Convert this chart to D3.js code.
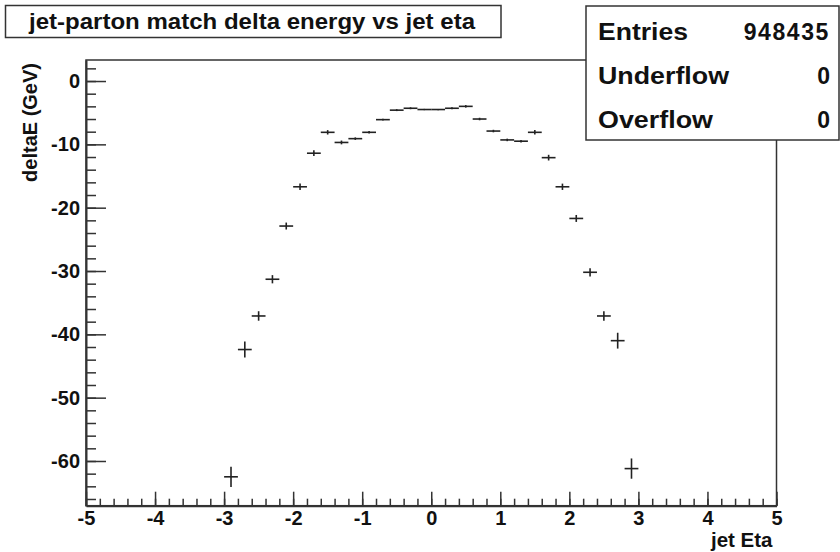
<!DOCTYPE html>
<html>
<head>
<meta charset="utf-8">
<script src="https://cdn.jsdelivr.net/npm/d3@7"></script>
<style>
  body { margin: 0; background: #fff; }
  text { font-family: "Liberation Sans", Arial, Helvetica, sans-serif; font-weight: bold; fill: #111; }
</style>
</head>
<body>
<div id="chart"></div>
<script>

// bin centres (jet eta), bin width 0.2
var etaCenters = [-2.9, -2.7, -2.5, -2.3, -2.1, -1.9, -1.7, -1.5, -1.3, -1.1,
                  -0.9, -0.7, -0.5, -0.3, -0.1, 0.1, 0.3, 0.5, 0.7, 0.9,
                  1.1, 1.3, 1.5, 1.7, 1.9, 2.1, 2.3, 2.5, 2.7, 2.9]
var binWidth = 0.2

// profile mean of deltaE (GeV) in each bin
var deltaE = [-62.5, -42.4, -37.1, -31.3, -22.9, -16.7, -11.4, -8.1, -9.7, -9.1,
              -8.1, -6.1, -4.6, -4.3, -4.5, -4.5, -4.3, -4.0, -6.0, -7.9,
              -9.3, -9.5, -8.1, -12.1, -16.7, -21.7, -30.2, -37.1, -41.0, -61.2]

// error on the mean
var deltaErr = [1.6, 1.25, 0.75, 0.65, 0.55, 0.5, 0.45, 0.35, 0.3, 0.2,
                0.2, 0.15, 0.15, 0.15, 0.1, 0.1, 0.15, 0.2, 0.2, 0.2,
                0.2, 0.2, 0.35, 0.45, 0.5, 0.55, 0.65, 0.75, 1.25, 1.6]

var xTicks = [-5, -4, -3, -2, -1, 0, 1, 2, 3, 4, 5]
var yTicks = [-60, -50, -40, -30, -20, -10, 0]

var titleText = "jet-parton match delta energy vs jet eta"
var statNames = ["Entries", "Underflow", "Overflow"]
var statValues = ["948435", "0", "0"]

var width = 840, height = 552
var frame = { left: 86, right: 776.5, top: 60, bottom: 505.7 }
var ink = "#222"

var svg = d3.select("#chart").append("svg")
	.attr("width", width)
	.attr("height", height)

var x = d3.scaleLinear().domain([-5, 5]).range([frame.left, frame.right])
var y = d3.scaleLinear().domain([-67.06, 3.32]).range([frame.bottom, frame.top])

// plot frame
svg.append("rect")
	.attr("x", frame.left).attr("y", frame.top)
	.attr("width", frame.right - frame.left)
	.attr("height", frame.bottom - frame.top)
	.style("fill", "none").style("stroke", "#333").style("stroke-width", 1.5)

// minor ticks first, majors with labels on top
var xMinor = d3.range(-5, 5.0001, 0.2).map(function(d) { return Math.round(d * 10) / 10 })
var yMinor = d3.range(-66, 3, 2)

svg.append("g")
	.attr("transform", "translate(0," + frame.bottom + ")")
	.call(d3.axisBottom(x).tickValues(xMinor).tickSizeInner(-7).tickSizeOuter(0).tickFormat(""))
	.call(function(g) { g.select(".domain").remove() })

svg.append("g")
	.attr("transform", "translate(" + frame.left + ",0)")
	.call(d3.axisLeft(y).tickValues(yMinor).tickSizeInner(-10).tickSizeOuter(0).tickFormat(""))
	.call(function(g) { g.select(".domain").remove() })

var xAxis = svg.append("g")
	.attr("transform", "translate(0," + frame.bottom + ")")
	.call(d3.axisBottom(x).tickValues(xTicks).tickSizeInner(-14).tickSizeOuter(0).tickPadding(5)
		.tickFormat(function(d) { return String(d) }))

var yAxis = svg.append("g")
	.attr("transform", "translate(" + frame.left + ",0)")
	.call(d3.axisLeft(y).tickValues(yTicks).tickSizeInner(-20).tickSizeOuter(0).tickPadding(6)
		.tickFormat(function(d) { return String(d) }))

svg.selectAll(".tick line").style("stroke", "#333").style("stroke-width", 1.5)
svg.selectAll(".domain").style("stroke", "#333").style("stroke-width", 2)
svg.selectAll(".tick text")
	.style("font-family", "'Liberation Sans', Arial, sans-serif")
	.style("font-weight", "bold")
	.style("font-size", "20px")
	.style("fill", "#111")

// axis titles
svg.append("text")
	.attr("x", frame.right - 4)
	.attr("y", 546.5)
	.attr("text-anchor", "end")
	.style("font-size", "20.5px")
	.text("jet Eta")

svg.append("text")
	.attr("transform", "translate(37," + 63 + ") rotate(-90)")
	.attr("text-anchor", "end")
	.style("font-size", "20px")
	.text("deltaE (GeV)")

// profile points: horizontal bar over the bin, vertical error bar
var pts = svg.append("g").attr("class", "points")
etaCenters.forEach(function(eta, i) {
	pts.append("line")
		.attr("x1", x(eta - binWidth / 2)).attr("x2", x(eta + binWidth / 2))
		.attr("y1", y(deltaE[i])).attr("y2", y(deltaE[i]))
		.style("stroke", ink).style("stroke-width", 1.6)
	pts.append("line")
		.attr("x1", x(eta)).attr("x2", x(eta))
		.attr("y1", y(deltaE[i] + deltaErr[i])).attr("y2", y(deltaE[i] - deltaErr[i]))
		.style("stroke", ink).style("stroke-width", 1.6)
})

// title box
svg.append("rect")
	.attr("x", 5.5).attr("y", 5.5).attr("width", 495.5).attr("height", 32)
	.style("fill", "#fff").style("stroke", "#333").style("stroke-width", 1.5)
svg.append("text")
	.attr("x", 29).attr("y", 28.5)
	.attr("textLength", 446).attr("lengthAdjust", "spacingAndGlyphs")
	.style("font-size", "22px")
	.text(titleText)

// stats box
svg.append("rect")
	.attr("x", 586).attr("y", 6).attr("width", 253).attr("height", 134)
	.style("fill", "#fff").style("stroke", "#333").style("stroke-width", 1.5)

var statRows = svg.append("g").attr("class", "stats")
statNames.forEach(function(name, i) {
	var base = 39.5 + i * 44.2
	statRows.append("text")
		.attr("x", 598).attr("y", base)
		.attr("textLength", [90, 131, 115][i]).attr("lengthAdjust", "spacingAndGlyphs")
		.style("font-size", "23px")
		.text(name)
	statRows.append("text")
		.attr("x", 830).attr("y", base)
		.attr("text-anchor", "end")
		.style("font-size", "23px")
		.style("letter-spacing", statValues[i].length > 1 ? "1.6px" : "0px")
		.text(statValues[i])
})

</script>
</body>
</html>
